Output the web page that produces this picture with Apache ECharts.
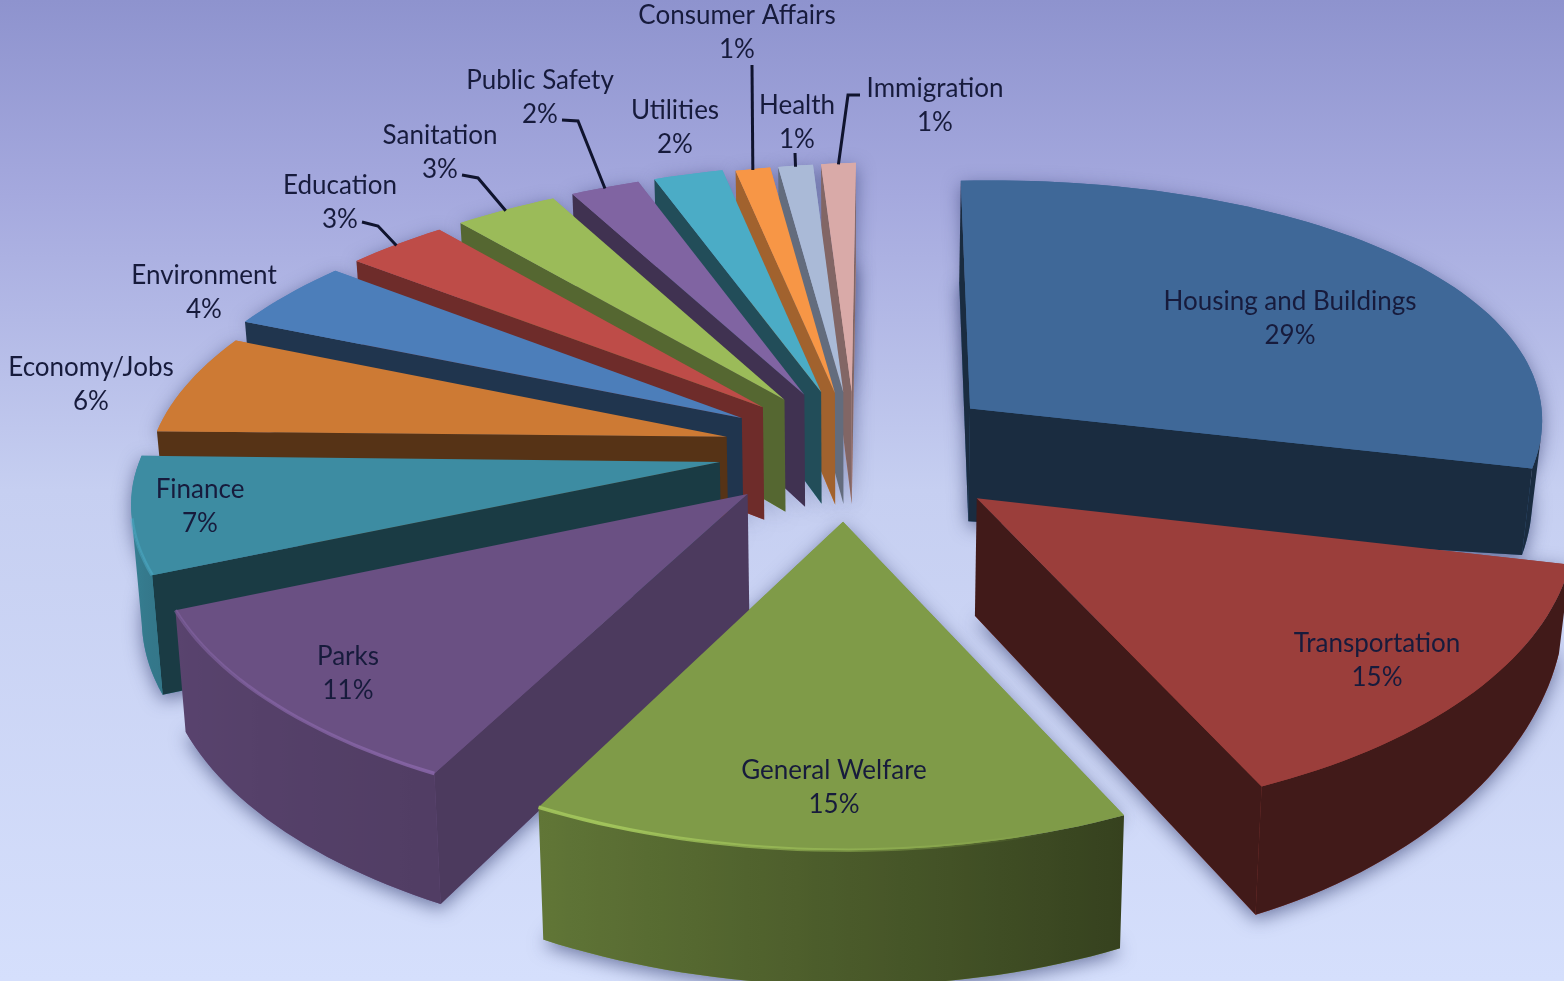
<!DOCTYPE html>
<html>
<head>
<meta charset="utf-8">
<title>Share of issues by category</title>
<style>html,body{margin:0;padding:0;background:#c5cdf0}#chart{width:1564px;height:981px}</style>
<script src="https://cdn.jsdelivr.net/npm/echarts@6/dist/echarts.min.js"></script>
</head>
<body>
<div id="chart"></div>
<script>
// Slice data, clockwise from twelve o'clock
const categories = ['Housing and Buildings','Transportation','General Welfare','Parks','Finance','Economy/Jobs','Environment','Education','Sanitation','Public Safety','Utilities','Consumer Affairs','Health','Immigration'];
const percents = [29,15,15,11,7,6,4,3,3,2,2,1,1,1];

// Slice styling
const topColors = ['#3F6898','#9B3E3B','#7F9B48','#6A5083','#3D8CA2','#CD7A34','#4C7EBA','#BE4C48','#9BBB59','#8064A2','#4BACC6','#F79646','#AABAD7','#D9AAA8'];
const faceShade = [0.42,0.42,0.42,0.72,0.42,0.42,0.42,0.58,0.55,0.5,0.45,0.65,0.58,0.6];
const explode = [0.25,0.27,0.25,0.23,0.23,0.23,0.24,0.24,0.24,0.24,0.24,0.23,0.23,0.23];
const radius = [0.975,1,1,1,0.995,0.985,1,1,1,1,1,1,1,1];

// Label centres and leader lines, in page pixels
const labelCentres = [[1290,319],[1377,661],[834,788],[348,674],[200,507],[91,385],[204,293],[340,203],[440,153],[540,98],[675,128],[737,33],[797,123],[935,106]];
const leaders = {7:[[362,222],[378,226]],8:[[462,175],[478,178]],9:[[562,120],[578,121]],11:[[752,65]],12:[[795,153]],13:[[860,95],[848,95]]};

// Projection of the pie's ground plane onto the page
const CX = 855, CY = 452, SX = 590, SY = 270, KX = 0.05, KY = 0.12, DEPTH = 115;
const deg = Math.PI / 180;
const total = percents.reduce((a, b) => a + b, 0);
const starts = [];
percents.reduce((sum, v, i) => { starts[i] = sum / total * 360; return sum + v; }, 0);
const ends = starts.map((s, i) => s + percents[i] / total * 360);
const mids = starts.map((s, i) => (s + ends[i]) / 2);
const paintRank = [];
mids.map((m, i) => [Math.cos(m * deg), i]).sort((a, b) => b[0] - a[0]).forEach((e, r) => { paintRank[e[1]] = r; });

function project(X, Y, low) {
  const near = Y < 0 ? Y * Y : 0;
  const lean = 4 * Math.max(0, Y) * (X < 0 ? 1 : -1);
  let x = SX * X / (1 + KX * Y) + (34 + 12 * X) * near + lean;
  let y = -SY * Y / (1 + KY * Y) - 16 * X + 8 * X * X - 6 * X * near;
  if (low) {
    const side = Math.max(0, X) / 1.15;
    const taper = 1 - 0.26 * side * side * side;
    y += DEPTH * taper / (1 + KY * Y);
    x *= 0.985;
  }
  return [CX + x, CY + y];
}
function rimPoint(i, a, low) {
  const e = explode[i], r = radius[i];
  return project(e * Math.sin(mids[i] * deg) + r * Math.sin(a * deg), e * Math.cos(mids[i] * deg) + r * Math.cos(a * deg), low);
}
function apex(i, low) {
  const e = explode[i];
  return project(e * Math.sin(mids[i] * deg), e * Math.cos(mids[i] * deg), low);
}
function arcAngles(i) {
  const n = Math.max(2, Math.ceil((ends[i] - starts[i]) / 1.5));
  return Array.from({ length: n + 1 }, (_, k) => starts[i] + (ends[i] - starts[i]) * k / n);
}
function area(pts) {
  let s = 0;
  pts.forEach((p, k) => { const q = pts[(k + 1) % pts.length]; s += p[0] * q[1] - q[0] * p[1]; });
  return s;
}
function rgb(hex) { return [1, 3, 5].map(k => parseInt(hex.substr(k, 2), 16)); }
function shade(hex, f) { return 'rgb(' + rgb(hex).map(c => Math.round(c * f)).join(',') + ')'; }
function glow(hex, f, alpha) { return 'rgba(' + rgb(hex).map(c => Math.min(255, Math.round(c * f))).join(',') + ',' + alpha + ')'; }
// Brightness of the curved wall by compass angle: lit from the left, dark on the right
function wallLight(a) {
  if (a < 158) return 0.42;
  if (a < 212) return 0.42 + (a - 158) * 0.0063;
  if (a < 252) return 0.76 + (a - 212) * 0.002;
  return Math.min(0.97, 0.84 + (a - 252) * 0.006);
}
function rimAlpha(a) {
  if (a < 165) return 0;
  if (a < 205) return (a - 165) / 40 * 0.95;
  if (a < 255) return 0.95 - (a - 205) / 50 * 0.5;
  if (a < 285) return 0.4;
  return 0;
}
function xGradient(samples, colorAt) {
  const xs = samples.map(s => s.x);
  const lo = Math.min(...xs), hi = Math.max(...xs);
  const stops = samples.map(s => ({ offset: (s.x - lo) / Math.max(1, hi - lo), color: colorAt(s.a) }))
    .sort((p, q) => p.offset - q.offset);
  return { type: 'linear', x: 0, y: 0, x2: 1, y2: 0, colorStops: stops };
}

function renderShadow(params) {
  const i = params.dataIndex;
  const angles = arcAngles(i);
  const outline = low => [apex(i, low)].concat(angles.map(a => rimPoint(i, a, low)));
  const style = { fill: topColors[i], shadowBlur: 18, shadowColor: 'rgba(45,55,105,0.6)', shadowOffsetY: 5 };
  return { type: 'group', children: [
    { type: 'polygon', shape: { points: outline(false) }, style },
    { type: 'polygon', shape: { points: outline(true) }, style }
  ] };
}

function renderSlice(params) {
  const i = params.dataIndex;
  const base = (paintRank[i] + 1) * 10;
  const children = [];
  const color = topColors[i];
  const angles = arcAngles(i);
  const A = apex(i, false), AL = apex(i, true);
  const S = rimPoint(i, starts[i], false), SL = rimPoint(i, starts[i], true);
  const E = rimPoint(i, ends[i], false), EL = rimPoint(i, ends[i], true);
  const faceFill = shade(color, faceShade[i]);
  const startFace = [A, S, SL, AL], endFace = [A, E, EL, AL];
  if (area(startFace) < 0) children.push({ type: 'polygon', z2: base, shape: { points: startFace }, style: { fill: faceFill } });
  if (area(endFace) > 0) children.push({ type: 'polygon', z2: base, shape: { points: endFace }, style: { fill: faceFill } });

  // Front-facing stretch of the curved outer wall
  const seen = [];
  angles.forEach((a, k) => {
    if (k === angles.length - 1) return;
    const b = angles[k + 1];
    if (area([rimPoint(i, a), rimPoint(i, b), rimPoint(i, b, true), rimPoint(i, a, true)]) < 0) {
      if (!seen.length || seen[seen.length - 1] !== a) seen.push(a);
      seen.push(b);
    }
  });
  if (seen.length > 1) {
    const top = seen.map(a => rimPoint(i, a));
    const bottom = seen.map(a => rimPoint(i, a, true)).reverse();
    const samples = seen.map((a, k) => ({ a, x: top[k][0] }));
    children.push({
      type: 'polygon', z2: base + 1, shape: { points: top.concat(bottom) },
      style: { fill: xGradient(samples, a => shade(color, wallLight(a))) }
    });
  }
  children.push({
    type: 'polygon', z2: base + 2,
    shape: { points: [A].concat(angles.map(a => rimPoint(i, a))) },
    style: { fill: color }
  });
  if (seen.length > 1 && seen.some(a => rimAlpha(a) > 0)) {
    const top = seen.map(a => rimPoint(i, a));
    const samples = seen.map((a, k) => ({ a, x: top[k][0] }));
    children.push({
      type: 'polyline', z2: base + 3, shape: { points: top },
      style: { fill: null, lineWidth: 3.5, stroke: xGradient(samples, a => glow(color, 1.28, rimAlpha(a))) }
    });
  }

  // Leader line running to the slice's outer edge
  if (leaders[i]) {
    const tip = rimPoint(i, mids[i]);
    children.push({
      type: 'polyline', z2: 500, shape: { points: leaders[i].concat([[tip[0], tip[1] + 1]]) },
      style: { fill: null, stroke: '#10142e', lineWidth: 3 }
    });
  }
  children.push({
    type: 'text', z2: 600,
    style: {
      text: categories[i] + '\n' + percents[i] + '%',
      x: labelCentres[i][0], y: labelCentres[i][1],
      align: 'center', verticalAlign: 'middle',
      fontFamily: 'Lato', fontSize: 26, lineHeight: 34, fill: '#171b3c'
    }
  });
  return { type: 'group', children };
}

const rows = categories.map((name, i) => ({ name, value: percents[i] }));
const chart = echarts.init(document.getElementById('chart'));
chart.setOption({
  animation: false,
  backgroundColor: {
    type: 'linear', x: 0, y: 0, x2: 0, y2: 1,
    colorStops: [
      { offset: 0, color: '#8E93CE' },
      { offset: 0.2, color: '#A5A9DE' },
      { offset: 0.5, color: '#C6CFF1' },
      { offset: 1, color: '#D5DFFC' }
    ]
  },
  series: [
    { type: 'custom', coordinateSystem: 'none', silent: true, z: 1, data: rows, renderItem: renderShadow },
    { type: 'custom', coordinateSystem: 'none', silent: true, z: 2, data: rows, renderItem: renderSlice }
  ]
});
</script>
</body>
</html>
